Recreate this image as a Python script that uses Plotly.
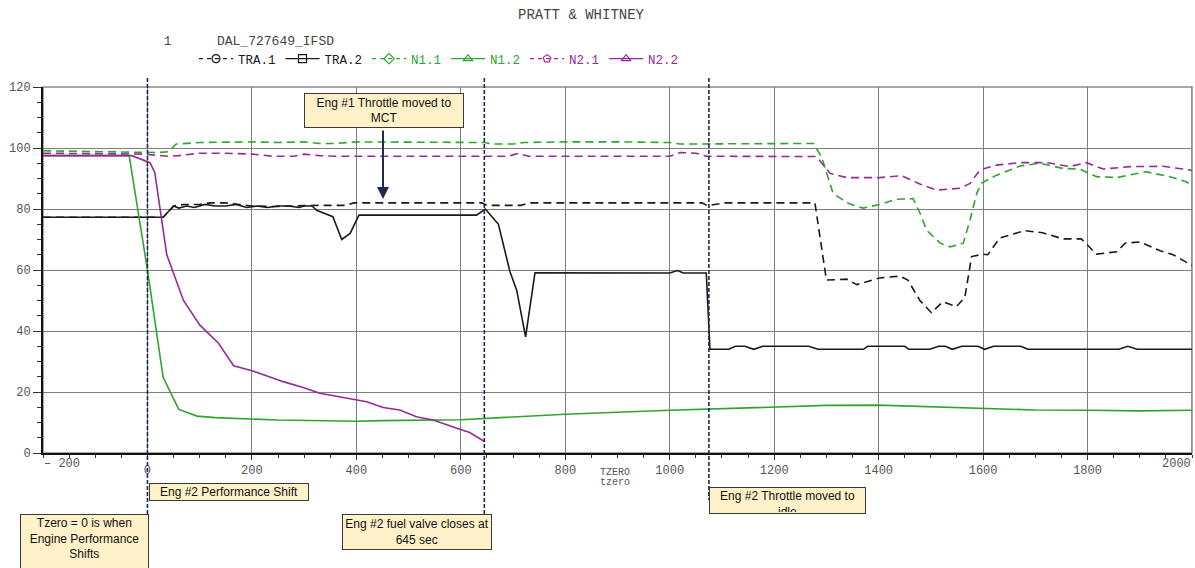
import plotly.graph_objects as go

# ---------------- data ----------------
tra1_t = [-200, 30, 40, 50, 70, 100, 120, 150, 175, 200, 240, 280, 310, 325, 380, 395, 640, 650, 715, 730,
          1062, 1072, 1105, 1278, 1300, 1339, 1358, 1402, 1441, 1456, 1479, 1501, 1523, 1549, 1565, 1578,
          1600, 1609, 1632, 1680, 1714, 1753, 1788, 1817, 1856, 1872, 1900, 1939, 1964, 1990, 2000]
tra1_v = [77.3, 77.3, 79, 81, 81.5, 81.5, 82, 82, 81.5, 81, 80.8, 81, 81, 81.2, 81.2, 82, 82, 81.2, 81.2, 82,
          82, 81.1, 82, 82, 56.7, 57, 55.2, 57.4, 58, 56.7, 50, 46, 49.6, 48, 51, 64.4,
          65.2, 65, 70.5, 72.9, 72.2, 70.2, 70.2, 65.2, 66, 68.8, 69.2, 66.3, 65, 62.3, 61.5]

tra2_t = [-200, 30, 50, 60, 75, 90, 110, 130, 150, 170, 190, 210, 230, 250, 270, 290, 300, 315, 325, 355,
          372, 388, 405, 630, 647, 672, 694, 707, 724, 742, 1000, 1015, 1026, 1070, 1077, 1113, 1126, 1144,
          1161, 1178, 1266, 1284, 1371, 1379, 1450, 1458, 1498, 1515, 1528, 1541, 1559, 1590, 1603, 1620,
          1672, 1686, 1860, 1877, 1895, 2000]
tra2_v = [77.3, 77.3, 81, 80.3, 81, 80.5, 81.5, 81, 81, 81.5, 80.5, 81, 80.5, 81, 81, 80.5, 81, 81, 79.5, 77.5,
          70, 72, 78, 78, 80, 75, 59.5, 53.4, 38.1, 59.1, 59, 59.8, 59, 59, 34, 34, 35, 35,
          34, 35, 35, 34, 34, 35, 35, 34, 34, 35, 35, 34, 35, 35, 34, 35,
          35, 34, 34, 35, 34, 34]

n11_t = [-200, -100, -10, 20, 40, 55, 100, 150, 200, 250, 300, 330, 360, 400, 500, 600, 645, 660, 700, 720,
         800, 900, 1000, 1020, 1075, 1090, 1275, 1291, 1313, 1345, 1370, 1402, 1434, 1466, 1479, 1492, 1518,
         1537, 1562, 1575, 1588, 1597, 1626, 1671, 1708, 1753, 1785, 1817, 1856, 1912, 1958, 1987, 2000]
n11_v = [99.1, 98.8, 98.5, 98.5, 98.8, 101.3, 101.8, 102, 102, 101.8, 102, 101.5, 101.5, 102, 102, 102, 101.8,
         101.3, 101.3, 101.8, 102, 102, 101.8, 101.3, 101.3, 101.5, 101.5, 97, 85, 81.6, 80.3, 81.5, 83.2,
         83.4, 78.7, 73, 68.8, 67.6, 68.8, 76.4, 85.2, 88.5, 91.1, 94.1, 95, 93.3, 93.1, 90.6, 90.3, 92.2,
         90.6, 89, 88]

n12_t = [-200, -35, 0, 30, 60, 95, 130, 200, 250, 400, 450, 600, 650, 800, 1000, 1100, 1200, 1300, 1400,
         1500, 1600, 1700, 1800, 1900, 2000]
n12_v = [97.5, 97.5, 60, 24.8, 14.3, 12.1, 11.6, 11, 10.8, 10.4, 10.6, 10.9, 11.3, 12.7, 14, 14.6, 15.2,
         15.6, 15.7, 15.2, 14.8, 14.1, 14, 13.8, 14]

n21_t = [-200, -100, -10, 40, 60, 100, 150, 200, 240, 280, 300, 330, 360, 400, 500, 690, 710, 730, 1000,
         1020, 1050, 1070, 1281, 1307, 1339, 1402, 1444, 1479, 1511, 1556, 1575, 1594, 1626, 1671, 1722,
         1766, 1798, 1830, 1881, 1944, 1996, 2000]
n21_v = [98.3, 98.2, 98, 97.3, 97.5, 98.3, 98.3, 98, 97.3, 97.3, 98, 97.5, 97.3, 97.3, 97.3, 97.3, 98.2,
         97.3, 97.3, 98.5, 98.3, 97.3, 97.2, 91.7, 90.3, 90.3, 90.9, 88.2, 86.2, 86.8, 88.4, 92.8, 94.4,
         95.2, 95.2, 93.9, 95.2, 93.1, 93.9, 94, 92.8, 92.6]

n22_t = [-200, -30, 5, 14, 37, 69, 100, 136, 165, 202, 260, 298, 330, 399, 420, 451, 483, 515, 547, 598,
         617, 646]
n22_v = [97.5, 97.5, 95.2, 92, 65, 50, 42, 36, 28.6, 26.9, 23.4, 21.5, 19.6, 17.6, 16.8, 14.9, 14.1,
         11.9, 10.8, 7.8, 6.7, 3.7]

event_t = [0, 645, 1075]
x_ticks = [0, 200, 400, 600, 800, 1000, 1200, 1400, 1600, 1800]
y_ticks = [0, 20, 40, 60, 80, 100, 120]

# ---------------- styling ----------------
BLACK = "#1a1a1a"
GREEN = "#2ea52e"
PURPLE = "#972a97"
NAVY = "#1e2b4f"
BOX = "#fff2c8"
MONO = "Liberation Mono"
SANS = "Liberation Sans"
DASH = "8px,5px"

series = [
    ("TRA.1", tra1_t, tra1_v, BLACK, DASH, "circle-open"),
    ("TRA.2", tra2_t, tra2_v, BLACK, "solid", "square-open"),
    ("N1.1", n11_t, n11_v, GREEN, DASH, "diamond-open"),
    ("N1.2", n12_t, n12_v, GREEN, "solid", "triangle-up-open"),
    ("N2.1", n21_t, n21_v, PURPLE, DASH, "pentagon-open"),
    ("N2.2", n22_t, n22_v, PURPLE, "solid", "triangle-up-open"),
]

fig = go.Figure()
for name, t, v, col, dash, sym in series:
    fig.add_trace(go.Scatter(x=t, y=v, mode="lines", showlegend=False,
                             line=dict(color=col, width=1.6, dash=dash), hoverinfo="skip"))
for name, t, v, col, dash, sym in series:
    fig.add_trace(go.Scatter(x=[None], y=[None], mode="lines+markers",
                             name=f"<span style='color:{col}'>{name}</span>",
                             line=dict(color=col, width=1.4, dash="4px,4px" if dash != "solid" else "solid"),
                             marker=dict(symbol=sym, size=8, color=col, line=dict(width=1.2, color=col))))

W, H = 1195, 568
L, R, T, B = 43, 3, 87, 115
PW, PH = W - L - R, H - T - B


def px(xp):
    return (xp - L) / PW


def py(yp):
    return (H - B - yp) / PH


# event lines (vertical, extend beyond plot)
event_bottoms = [py(514), py(514), py(500)]
for t, yb in zip(event_t, event_bottoms):
    fig.add_shape(type="line", xref="x", yref="paper", x0=t, x1=t, y0=py(78), y1=yb,
                  line=dict(color=NAVY, width=1.6, dash="4px,2px"), layer="above")

# plot border (gray)
fig.add_shape(type="rect", xref="paper", yref="paper", x0=0, x1=1, y0=0, y1=1,
              line=dict(color="#8a8a8a", width=1.5), layer="below")


def box(text, left, top, w, h, valign="middle"):
    fig.add_annotation(xref="paper", yref="paper", x=px(left), y=py(top), xanchor="left", yanchor="top",
                       text=text, showarrow=False, align="center", valign=valign,
                       width=w, height=h, bgcolor=BOX, bordercolor="#3a3a3a", borderwidth=1, borderpad=1,
                       font=dict(family=SANS, size=12, color="#111"))


box("Eng #1 Throttle moved to<br>MCT", 304, 93, 156, 31)
box("Eng #2 Performance Shift", 149, 483, 156, 14)
box("Tzero = 0 is when<br>Engine Performance<br>Shifts", 20, 514, 125, 64, valign="top")
box("Eng #2 fuel valve closes at<br>645 sec", 342, 514, 146, 32)
box("Eng #2 Throttle moved to<br>idle", 709, 487, 153, 23, valign="top")

# arrow to the TRA.1 step
fig.add_annotation(xref="paper", yref="paper", x=px(383), y=py(199), ax=0, ay=-70, text="",
                   showarrow=True, arrowhead=2, arrowsize=1.2, arrowwidth=2, arrowcolor=NAVY)


def label(text, xp, yp, size, xanchor="center", color="#444"):
    fig.add_annotation(xref="paper", yref="paper", x=px(xp), y=py(yp), xanchor=xanchor, yanchor="middle",
                       text=text, showarrow=False, font=dict(family=MONO, size=size, color=color))


label("PRATT &amp; WHITNEY", 581, 15, 14)
label("1", 167, 42, 12)
label("DAL_727649_IFSD", 215, 42, 13, xanchor="left")
label("TZERO", 615, 472, 10, color="#555")
label("tzero", 615, 482, 10, color="#555")
label("– 200", 62, 464, 12, color="#555")
label("2000", 1193, 464, 12, xanchor="right", color="#555")

fig.update_layout(
    width=W, height=H, autosize=False,
    margin=dict(l=L, r=R, t=T, b=B, autoexpand=False),
    paper_bgcolor="white", plot_bgcolor="white",
    showlegend=True,
    legend=dict(orientation="h", xref="container", yref="container",
                x=194 / W, y=1 - 44 / H, xanchor="left", yanchor="top",
                font=dict(family=MONO, size=12.5, color="#333"), bgcolor="rgba(0,0,0,0)",
                itemwidth=34, tracegroupgap=0, itemclick=False),
    xaxis=dict(range=[-200, 2000], tickmode="array", tickvals=x_ticks,
               ticktext=[str(v) for v in x_ticks], automargin=False,
               showgrid=True, gridcolor="#7f7f7f", gridwidth=1, zeroline=False,
               showline=True, linecolor="#111", linewidth=2,
               ticks="outside", ticklen=5, tickcolor="#333", tickwidth=1,
               minor=dict(tickmode="linear", tick0=-200, dtick=50, ticks="outside", ticklen=3,
                          tickcolor="#333", showgrid=False),
               tickfont=dict(family=MONO, size=12, color="#555")),
    yaxis=dict(range=[0, 120], tickmode="array", tickvals=y_ticks, automargin=False,
               showgrid=True, gridcolor="#7f7f7f", gridwidth=1, zeroline=False,
               showline=True, linecolor="#111", linewidth=2,
               ticks="outside", ticklen=8, tickcolor="#333", tickwidth=1,
               minor=dict(tickmode="linear", tick0=0, dtick=5, ticks="outside", ticklen=4,
                          tickcolor="#333", showgrid=False),
               tickfont=dict(family=MONO, size=12, color="#555")),
)
# vertical gridline at 2000 (right edge)
fig.add_shape(type="line", xref="x", yref="paper", x0=2000, x1=2000, y0=0, y1=1,
              line=dict(color="#7f7f7f", width=1), layer="below")

fig.write_html("out.html", config={"displayModeBar": False},
               post_script="document.body.style.margin='0';")
